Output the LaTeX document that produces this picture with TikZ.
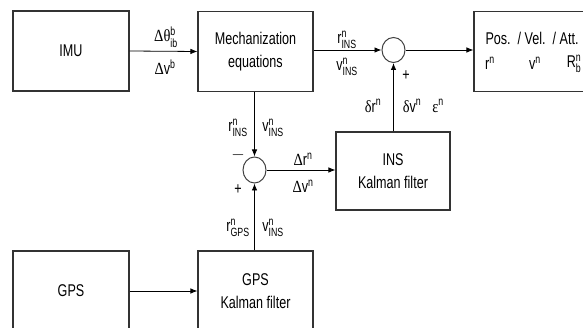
\documentclass[tikz,border=0pt]{standalone}
\usepackage{amsmath}
\usepackage{fontspec}
\setmainfont[FakeStretch=0.74]{Liberation Sans}
\newfontfamily\grk[FakeStretch=0.85]{Liberation Serif}
\usetikzlibrary{shapes.geometric,arrows.meta}

\begin{document}
\begin{tikzpicture}[x=1pt,y=-1pt,
  blk/.style={draw=black!80,line width=1.1pt,minimum width=116pt,minimum height=80pt,inner sep=0pt,align=center},
  sum/.style={draw=black!75,line width=1pt,ellipse,minimum width=23pt,minimum height=25pt,inner sep=0pt},
  lbl/.style={inner sep=0pt},
  con/.style={line width=0.8pt,-{Latex[length=7pt,width=5.5pt]}},
  font=\fontsize{17}{23}\selectfont]
\clip (0,0) rectangle (583,328);
% blocks
\node[blk] (imu) at (71,51) {IMU};
\node[blk,minimum width=115pt] (mech) at (255.5,51.5) {Mechanization\\equations};
\node[blk,minimum width=124pt] (out) at (536,51.5) {};
\node[blk,minimum width=114pt,minimum height=78pt] (ins) at (393,171) {INS\\Kalman filter};
\node[blk] (gps) at (71,291) {GPS};
\node[blk,minimum width=115pt] (gpskf) at (255.5,291) {GPS\\Kalman filter};
\node[sum] (sum1) at (393.5,50) {};
\node[sum,minimum height=26pt] (sum2) at (254.5,170) {};
% connectors
\draw[con] (imu.east) -- (mech.west);
\draw[con] (mech.east |- sum1.west) -- (sum1.west);
\draw[con] (sum1.east) -- (sum1.east -| out.west);
\draw[con] (ins.north -| sum1.south) -- (sum1.south);
\draw[con] (mech.south -| sum2.north) -- (sum2.north);
\draw[con] (sum2.east) -- (sum2.east -| ins.west);
\draw[con] (gpskf.north -| sum2.south) -- (sum2.south);
\draw[con] (gps.east) -- (gpskf.west);
% labels
\node[lbl] (dth) at (166,37) {{\grk Δθ}$^{\text{b}}_{\text{ib}}$};
\node[lbl] (dvb) at (165,67) {{\grk Δ}v$^{\text{b}}$};
\node[lbl] (rins1) at (347,40) {r$^{\text{n}}_{\text{INS}}$};
\node[lbl] (vins1) at (347,67) {v$^{\text{n}}_{\text{INS}}$};
\node[lbl] (plus1) at (406,76) {+};
\node[lbl] (drn) at (373,106) {{\grk δ}r$^{\text{n}}$};
\node[lbl] (dvn) at (412,106) {{\grk δ}v$^{\text{n}}$};
\node[lbl] (epsn) at (438,106) {{\grk ε}$^{\text{n}}$};
\node[lbl] (pva) at (532,38) {Pos.\ \ /\ Vel.\ \ /\ Att.};
\node[lbl] (rn) at (490,63) {r$^{\text{n}}$};
\node[lbl] (vn) at (535,63) {v$^{\text{n}}$};
\node[lbl] (rbn) at (574,64) {R$^{\text{n}}_{\text{b}}$};
\node[lbl] (rins2) at (238,128) {r$^{\text{n}}_{\text{INS}}$};
\node[lbl] (vins2) at (273,128) {v$^{\text{n}}_{\text{INS}}$};
\node[lbl] (minus) at (238,155) {$-$};
\node[lbl] (plus2) at (238,190) {+};
\node[lbl] (dr) at (303,159) {{\grk Δ}r$^{\text{n}}$};
\node[lbl] (dv) at (303,186) {{\grk Δ}v$^{\text{n}}$};
\node[lbl] (rgps) at (238,228) {r$^{\text{n}}_{\text{GPS}}$};
\node[lbl] (vins3) at (273,228) {v$^{\text{n}}_{\text{INS}}$};
\end{tikzpicture}
\end{document}
